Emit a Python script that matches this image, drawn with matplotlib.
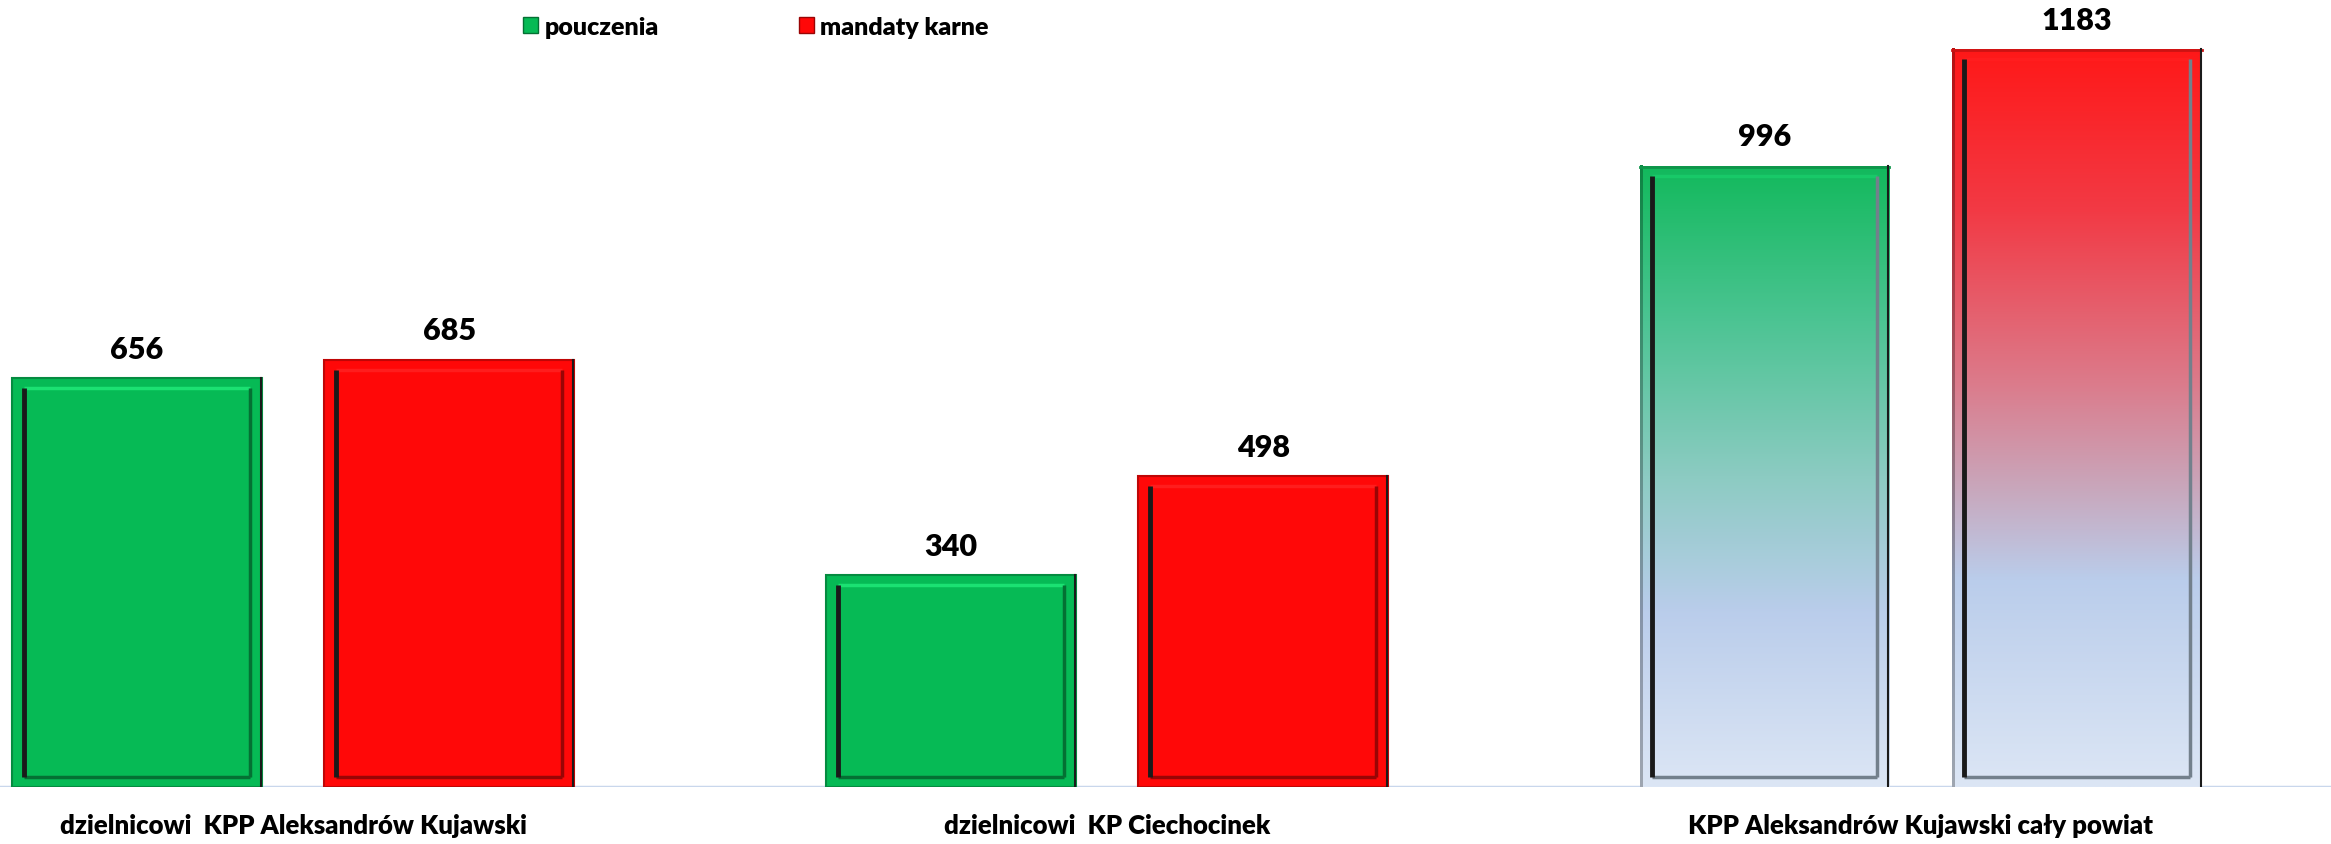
import numpy as np
import matplotlib
matplotlib.use('Agg')
import matplotlib.pyplot as plt
from matplotlib.patches import Patch
from matplotlib.colors import LinearSegmentedColormap

plt.rcParams['font.family'] = ['Lato', 'DejaVu Sans']

#-------------------------------------------------------------------------------
#DATA

categories = ['dzielnicowi  KPP Aleksandrów Kujawski',
              'dzielnicowi  KP Ciechocinek',
              'KPP Aleksandrów Kujawski cały powiat']
series = ['pouczenia', 'mandaty karne']
pouczenia = [656, 340, 996]
mandaty = [685, 498, 1183]

#-------------------------------------------------------------------------------
#STYLE

W, H = 2331, 845
base_px = 57          # baseline from bottom, px
plot_px = 788         # baseline to top of figure, px
ymax = 1263
xmin, xmax = -0.36, 2.504
width = 0.307
off = 0.192
weight = 'heavy'

green = '#06BA55'
red = '#FF0808'
green_grad = LinearSegmentedColormap.from_list('g', [
    (0.0, '#DCE6F5'), (0.28, '#BACDEB'), (0.5, '#8CCBC2'),
    (0.75, '#4CC493'), (1.0, '#12B95C')])
red_grad = LinearSegmentedColormap.from_list('r', [
    (0.0, '#DCE6F5'), (0.28, '#BACDEB'), (0.4, '#C8A8BD'),
    (0.55, '#DC7A8A'), (0.78, '#F23A45'), (1.0, '#FF1818')])

def darker(c, f):
    rgb = np.array(matplotlib.colors.to_rgb(c))
    return tuple(np.clip(rgb*f, 0, 1))

#-------------------------------------------------------------------------------
#FUNCTIONS

px_x = W/(xmax - xmin)
px_y = plot_px/ymax

def bevel_bar(ax, x, h, color, cmap=None, edge='#1a1a1a'):
    if cmap is None:
        b = ax.bar(x, h, width, color=color, edgecolor=darker(color, 0.75),
                   linewidth=1.5, zorder=2)[0]
    else:
        b = ax.bar(x, h, width, color='none', edgecolor='none', zorder=2)[0]
        grad = np.linspace(0, 1, 256).reshape(-1, 1)
        im = ax.imshow(grad, cmap=cmap, origin='lower', aspect='auto',
                       extent=(x - width/2, x + width/2, 0, h), zorder=2.5)
        im.set_clip_path(b)
        # darker outer frame taken from the gradient
        dark = LinearSegmentedColormap.from_list(
            'd', [darker(cmap(t), 0.72) for t in np.linspace(0, 1, 8)])
        xe = x - width/2 + 1.5/px_x
        ax.imshow(grad, cmap=dark, origin='lower', aspect='auto',
                  extent=(xe - 1.5/px_x, xe + 1.5/px_x, 0, h), zorder=2.7)
        ax.plot([x - width/2, x + width/2], [h - 1/px_y]*2,
                color=darker(cmap(1.0), 0.8), lw=2, zorder=2.7)
    ix = 12/px_x
    iy = 10/px_y
    x0, x1 = x - width/2 + ix, x + width/2 - ix
    y0, y1 = iy, h - iy
    if cmap is None:
        light = tuple(min(1, v*1.1 + 0.08) for v in matplotlib.colors.to_rgb(color))
        mid = darker(color, 0.6)
    else:
        light = darker(cmap(0.98), 1.08)
        mid = (0.45, 0.5, 0.55)
    ax.plot([x0, x1], [y1, y1], color=light, lw=2.5, zorder=3, solid_capstyle='butt')
    ax.plot([x0, x1], [y0, y0], color=mid, lw=2.5, zorder=3, solid_capstyle='butt')
    ax.plot([x1, x1], [y0, y1], color=mid, lw=2.5, zorder=3, solid_capstyle='butt')
    ax.plot([x0, x0], [y0, y1], color=edge, lw=3.5, zorder=3, solid_capstyle='butt')
    ax.plot([x + width/2 - 1/px_x]*2, [0, h], color=edge, lw=1.5, zorder=3)
    ax.annotate(str(h), (x, h), xytext=(0, 21), textcoords='offset points',
                ha='center', va='center', fontsize=22, fontweight=weight)

#-------------------------------------------------------------------------------
#MAIN

fig = plt.figure(figsize=(W/100, H/100), dpi=100)
ax = fig.add_axes([0, base_px/H, 1, plot_px/H])

for i in range(len(categories)):
    if i == 2:
        bevel_bar(ax, i - off, pouczenia[i], green, green_grad)
        bevel_bar(ax, i + off, mandaty[i], red, red_grad)
    else:
        bevel_bar(ax, i - off, pouczenia[i], green)
        bevel_bar(ax, i + off, mandaty[i], red)

ax.set_xlim(xmin, xmax)
ax.set_ylim(0, ymax)
ax.axhline(0, color='#C9D7EC', lw=2.5, zorder=1)
for s in ax.spines.values():
    s.set_visible(False)
ax.set_yticks([])
ax.set_xticks(range(len(categories)))
ax.set_xticklabels(categories, fontsize=18.5, fontweight=weight)
ax.tick_params(axis='x', length=0, pad=19)

handles = [Patch(facecolor=green, edgecolor=darker(green, 0.6)),
           Patch(facecolor=red, edgecolor=darker(red, 0.6))]
fig.legend(handles, series, loc='center left', ncol=2, frameon=False,
           bbox_to_anchor=(523/W, 1 - 28/H), borderpad=0, borderaxespad=0,
           handlelength=0.6, handleheight=0.6, handletextpad=0.25,
           columnspacing=5.6, prop={'size': 18, 'weight': weight})

fig.savefig('out.png', dpi=100)
